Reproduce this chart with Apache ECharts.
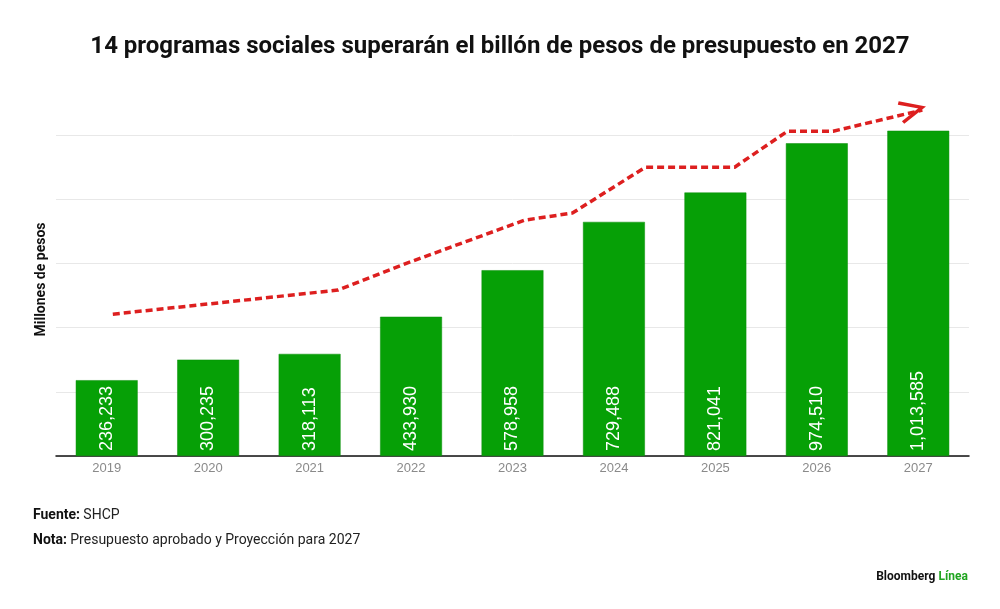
<!DOCTYPE html>
<html>
<head>
<meta charset="utf-8">
<script src="https://cdn.jsdelivr.net/npm/echarts@6/dist/echarts.min.js"></script>
<style>
html,body{margin:0;padding:0;background:#fff;}
#chart{width:1000px;height:609px;}
</style>
</head>
<body>
<div id="chart"></div>
<script>
const categories = ['2019','2020','2021','2022','2023','2024','2025','2026','2027'];
const budget = [236233, 300235, 318113, 433930, 578958, 729488, 821041, 974510, 1013585];
// decorative trend arrow (x in category index units, y in millones de pesos)
const trendX = [0.06, 2.28, 2.96, 4.12, 4.59, 5.31, 6.19, 6.71, 7.16, 8.04];
const trendY = [442000, 517000, 601000, 735000, 757000, 900000, 900000, 1012000, 1012000, 1078000];

const trendData = trendX.map((x, i) => {
  const pt = { value: [x, trendY[i]] };
  if (i === trendX.length - 1) {
    pt.symbol = 'path://M0,0 L10,5 L0,10';
    pt.symbolSize = [22, 20];
    pt.symbolRotate = 14;
    pt.symbolOffset = [-11, 0];
    pt.itemStyle = { color: 'rgba(0,0,0,0)', borderColor: '#dd1f1f', borderWidth: 3.5 };
  } else {
    pt.symbol = 'none';
  }
  return pt;
});

const chart = echarts.init(document.getElementById('chart'), null, { renderer: 'canvas' });
chart.setOption({
  backgroundColor: '#ffffff',
  animation: false,
  title: {
    text: '14 programas sociales superarán el billón de pesos de presupuesto en 2027',
    left: 'center',
    top: 30,
    textStyle: { fontFamily: 'Roboto', fontWeight: 'bold', fontSize: 24, color: '#111', letterSpacing: -0.1 }
  },
  grid: { left: 56, right: 31, top: 103, bottom: 153, containLabel: false },
  xAxis: [{
    type: 'category',
    data: categories,
    axisLine: { lineStyle: { color: '#111', width: 1.5 } },
    axisTick: { show: false },
    axisLabel: { color: '#8a8a8a', fontSize: 13, fontFamily: 'Liberation Sans', margin: 6 }
  }, {
    type: 'value',
    min: -0.5,
    max: 8.5,
    show: false
  }],
  yAxis: {
    type: 'value',
    min: 0,
    max: 1100000,
    interval: 200000,
    name: 'Millones de pesos',
    nameLocation: 'middle',
    nameGap: 8,
    nameTextStyle: { fontFamily: 'Roboto', fontWeight: 'bold', fontSize: 14, color: '#111' },
    axisLine: { show: false },
    axisTick: { show: false },
    axisLabel: { show: false },
    splitLine: { show: true, showMaxLine: false, lineStyle: { color: '#e8e8e8', width: 1 } }
  },
  series: [{
    type: 'bar',
    data: budget,
    xAxisIndex: 0,
    barWidth: '61%',
    itemStyle: { color: '#06a006', borderColor: '#0b8f0b', borderWidth: 0.5 },
    label: {
      show: true,
      position: 'insideBottom',
      rotate: 90,
      align: 'left',
      verticalAlign: 'middle',
      distance: 5,
      color: '#ffffff',
      fontSize: 18,
      fontFamily: 'Liberation Sans',
      formatter: p => p.value.toLocaleString('en-US')
    }
  }, {
    type: 'line',
    xAxisIndex: 1,
    data: trendData,
    lineStyle: { color: '#dd1f1f', width: 3.5, type: [7, 4] },
    z: 5
  }],
  graphic: [{
    type: 'text', left: 33, top: 508,
    style: {
      text: '{b|Fuente:} {r|SHCP}',
      rich: {
        b: { fontFamily: 'Roboto', fontWeight: 'bold', fontSize: 14, fill: '#111' },
        r: { fontFamily: 'Roboto', fontSize: 14, fill: '#222' }
      }
    }
  }, {
    type: 'text', left: 33, top: 533,
    style: {
      text: '{b|Nota:} {r|Presupuesto aprobado y Proyección para 2027}',
      rich: {
        b: { fontFamily: 'Roboto', fontWeight: 'bold', fontSize: 14, fill: '#111' },
        r: { fontFamily: 'Roboto', fontSize: 14, fill: '#222' }
      }
    }
  }, {
    type: 'text', right: 32, top: 571,
    style: {
      text: '{b|Bloomberg} {g|Línea}',
      rich: {
        b: { fontFamily: 'Roboto', fontWeight: 'bold', fontSize: 12, fill: '#111' },
        g: { fontFamily: 'Roboto', fontWeight: 'bold', fontSize: 12, fill: '#1fa51f' }
      }
    }
  }]
});
</script>
</body>
</html>
